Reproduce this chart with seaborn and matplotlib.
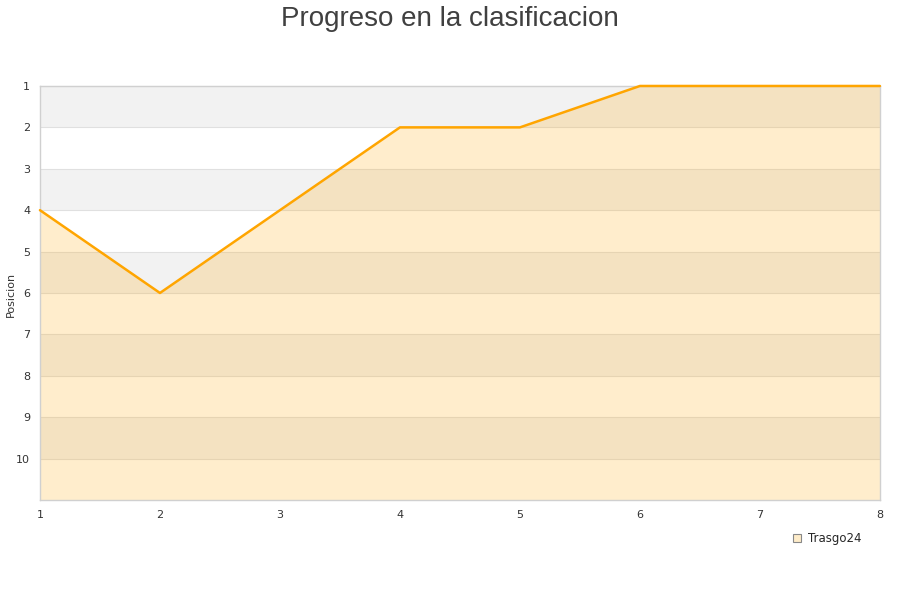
import matplotlib.pyplot as plt
import pandas as pd
import seaborn as sns

# Datos
jornadas = [1, 2, 3, 4, 5, 6, 7, 8]
posiciones = [4, 6, 4, 2, 2, 1, 1, 1]
equipo = "Trasgo24"

df = pd.DataFrame({"Jornada": jornadas, "Posicion": posiciones})

sns.set_style("white")
plt.rcParams['font.family'] = ['DejaVu Sans']

fig = plt.figure(figsize=(9, 6), dpi=100)
ax = fig.add_axes([0.0444, 0.1667, 0.9333, 0.69])

# bandas alternas de fondo
for y0 in range(1, 11, 2):
    ax.axhspan(y0, y0 + 1, color='#f2f2f2', zorder=0, lw=0)
for y in range(1, 11):
    ax.axhline(y, color='#e0e0e0', lw=0.8, zorder=0.5)

ax.fill_between(df["Jornada"], df["Posicion"], 11, color='#ffa500', alpha=0.2, lw=0, zorder=1)
sns.lineplot(data=df, x="Jornada", y="Posicion", ax=ax, color='#ffa500', lw=1.8, zorder=3)
for ln in ax.lines:
    ln.set_clip_on(False)

ax.set_xlim(1, 8)
ax.set_ylim(11, 1)
ax.set_yticks(range(1, 11))
ax.set_xticks(jornadas)
ax.tick_params(axis='both', labelsize=8, colors='#333333', length=0, pad=7)
ax.set_xlabel("")
ax.set_ylabel("")
fig.text(0.012, 0.51, "Posicion", rotation=90, ha='center', va='center',
         fontsize=8, color='#333333')
for s in ax.spines.values():
    s.set_color('#d0d0d0')
    s.set_linewidth(1)

fig.text(0.5, 0.99, "Progreso en la clasificacion", ha='center', va='top',
         fontsize=20, color='#404040', family='Liberation Sans')

handle = plt.Line2D([], [], marker='s', ls='', markersize=6,
                    markerfacecolor='#feecc9', markeredgecolor='#888888', markeredgewidth=0.8)
fig.legend([handle], [equipo], loc='center', bbox_to_anchor=(0.918, 0.103),
           frameon=False, fontsize=8.5, handletextpad=0.4, handlelength=1)

fig.savefig('out.png')
